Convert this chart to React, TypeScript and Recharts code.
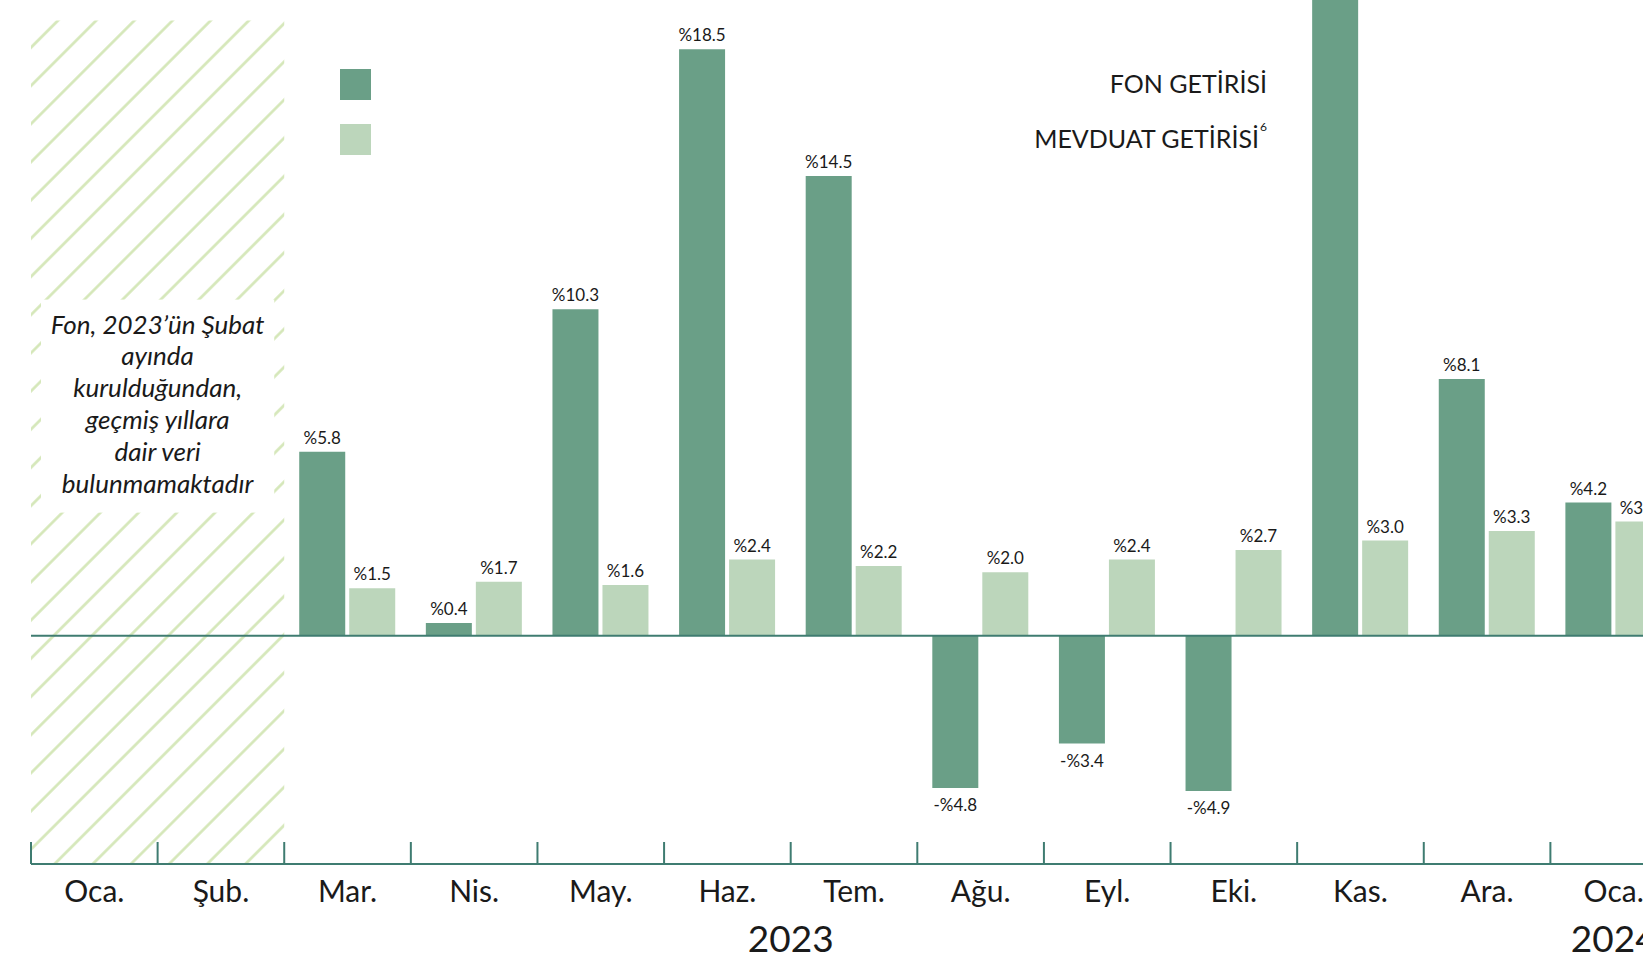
import { Bar, BarChart, LabelList, Legend, ReferenceArea, ReferenceLine, XAxis, YAxis } from 'recharts'

const months = ['Oca.', 'Şub.', 'Mar.', 'Nis.', 'May.', 'Haz.', 'Tem.', 'Ağu.', 'Eyl.', 'Eki.', 'Kas.', 'Ara.', 'Oca.']
const years = ['2023', '2023', '2023', '2023', '2023', '2023', '2023', '2023', '2023', '2023', '2023', '2023', '2024']
const fonGetirisi = [null, null, 5.8, 0.4, 10.3, 18.5, 14.5, -4.8, -3.4, -4.9, 21.0, 8.1, 4.2]
const mevduatGetirisi = [null, null, 1.5, 1.7, 1.6, 2.4, 2.2, 2.0, 2.4, 2.7, 3.0, 3.3, 3.6]

const legendItems = [
  { label: 'FON GETİRİSİ', note: '' },
  { label: 'MEVDUAT GETİRİSİ', note: '6' },
]
const noteLines = ['Fon, 2023’ün Şubat', 'ayında', 'kurulduğundan,', 'geçmiş yıllara', 'dair veri', 'bulunmamaktadır']

const DARK = '#6a9f87'
const LIGHT = '#bcd6bb'
const AXIS = '#3f7c71'
const HATCH = '#d3e6b6'
const TEXT = '#1a1a1a'
const FONT = 'Lato, "Noto Sans", sans-serif'

const CHART_W = 1700
const CHART_H = 959
const MARGIN = { top: 0, right: 23, bottom: 0, left: 31 }
const BAND = (CHART_W - MARGIN.left - MARGIN.right) / months.length
const Y_DOMAIN: [number, number] = [-7.2, 20.05]

const chartData = months.map((month, i) => ({
  key: `${years[i]}-${i}`,
  month,
  year: years[i],
  fon: fonGetirisi[i],
  mevduat: mevduatGetirisi[i],
}))

function fmt(v: number) {
  return v < 0 ? `-%${Math.abs(v).toFixed(1)}` : `%${v.toFixed(1)}`
}

function ValueLabel(props: any) {
  const { x, y, width, height, value } = props
  // the label of a bar that runs past the top of the picture is off-canvas
  if (value === null || value === undefined || value > Y_DOMAIN[1]) return null
  const top = Math.min(y, y + height)
  const bottom = Math.max(y, y + height)
  const ty = value >= 0 ? top - 8 : bottom + 23
  return (
    <text x={x + width / 2} y={ty} textAnchor="middle" fontSize={17} fill={TEXT} fontFamily={FONT}>
      {fmt(value)}
    </text>
  )
}

function MonthTick(props: any) {
  const { x, y, payload } = props
  const i = payload.index
  const row = chartData[i]
  const left = x - BAND / 2
  let yearLabel = null
  if (i === 0 || years[i - 1] !== row.year) {
    const count = years.filter((yy) => yy === row.year).length
    yearLabel = (
      <text x={x + ((count - 1) / 2) * BAND} y={y + 88} textAnchor="middle" fontSize={37} fill={TEXT} fontFamily={FONT}>
        {row.year}
      </text>
    )
  }
  return (
    <g>
      <line x1={left} x2={left} y1={y - 22} y2={y} stroke={AXIS} strokeWidth={2} />
      <text x={x} y={y + 38} textAnchor="middle" fontSize={30} fill={TEXT} fontFamily={FONT}>
        {row.month}
      </text>
      {yearLabel}
    </g>
  )
}

function NoteLabel(props: any) {
  const { viewBox } = props
  if (!viewBox) return null
  const { x, y, width } = viewBox
  const cx = x + width / 2
  return (
    <g>
      <rect x={x + 10} y={y + 279} width={width - 20} height={213} fill="#fff" />
      {noteLines.map((line, i) => (
        <text key={i} x={cx} y={y + 313 + i * 31.8} textAnchor="middle" fontSize={26} fontStyle="italic" fill={TEXT} fontFamily={FONT}>
          {line}
        </text>
      ))}
    </g>
  )
}

function LegendContent() {
  return (
    <svg width={1643} height={200} style={{ position: 'absolute', top: 0, left: 0, pointerEvents: 'none' }}>
      {legendItems.map((item, i) => (
        <g key={item.label}>
          <rect x={340} y={69 + i * 55} width={31} height={31} fill={i === 0 ? DARK : LIGHT} />
          <text x={item.note ? 1259 : 1267} y={93 + i * 55} textAnchor="end" fontSize={25} fill={TEXT} fontFamily={FONT}>
            {item.label}
          </text>
          {item.note && (
            <text x={1260} y={131 + (i - 1) * 55} fontSize={12} fill={TEXT} fontFamily={FONT}>
              {item.note}
            </text>
          )}
        </g>
      ))}
    </svg>
  )
}

export default function App() {
  return (
    <div style={{ position: 'absolute', top: 0, left: 0, width: 1643, height: 959, overflow: 'hidden', background: '#fff' }}>
      <BarChart width={CHART_W} height={CHART_H} data={chartData} margin={MARGIN} barGap={4}>
        <defs>
          <pattern id="hatch" width={27} height={27} patternUnits="userSpaceOnUse" patternTransform="rotate(45)">
            <line x1={1.5} y1={0} x2={1.5} y2={27} stroke={HATCH} strokeWidth={2.6} />
          </pattern>
        </defs>
        <XAxis
          dataKey="key"
          height={95}
          interval={0}
          tickSize={0}
          tickMargin={0}
          tickLine={false}
          axisLine={{ stroke: AXIS, strokeWidth: 2 }}
          tick={<MonthTick />}
        />
        <YAxis hide domain={Y_DOMAIN} allowDataOverflow />
        <ReferenceArea
          x1={chartData[0].key}
          x2={chartData[1].key}
          y1={Y_DOMAIN[0]}
          y2={19.4}
          fill="url(#hatch)"
          fillOpacity={1}
          stroke="none"
          label={<NoteLabel />}
        />
        <Legend content={<LegendContent />} wrapperStyle={{ top: 0, left: 0, width: 0, height: 0 }} />
        <Bar dataKey="fon" name="FON GETİRİSİ" fill={DARK} barSize={46} isAnimationActive={false}>
          <LabelList dataKey="fon" content={<ValueLabel />} />
        </Bar>
        <Bar dataKey="mevduat" name="MEVDUAT GETİRİSİ" fill={LIGHT} barSize={46} isAnimationActive={false}>
          <LabelList dataKey="mevduat" content={<ValueLabel />} />
        </Bar>
        <ReferenceLine y={0} stroke={AXIS} strokeWidth={2} />
      </BarChart>
    </div>
  )
}
